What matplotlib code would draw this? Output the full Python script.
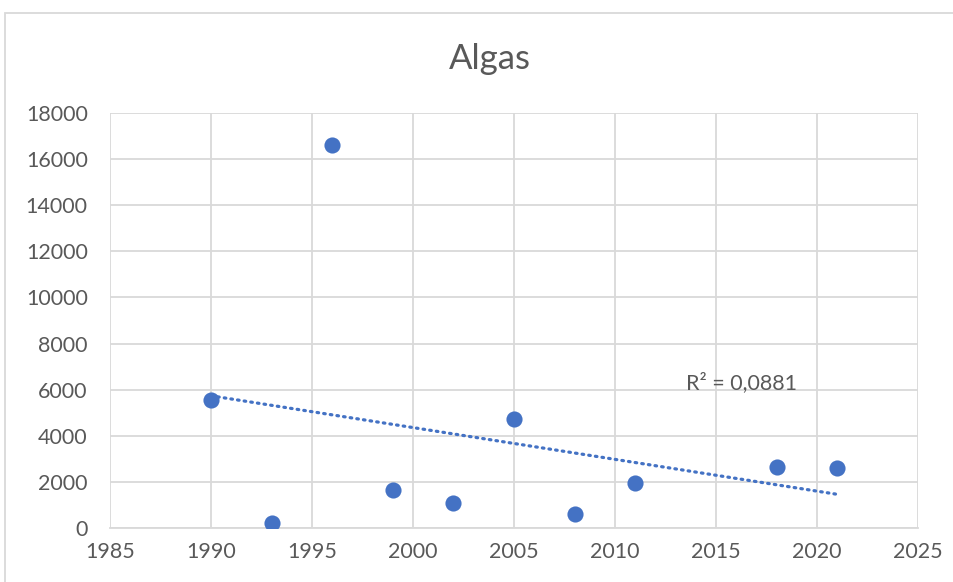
import matplotlib.pyplot as plt
import numpy as np
from matplotlib.patches import Rectangle

# data
years = [1990, 1993, 1996, 1999, 2002, 2005, 2008, 2011, 2018, 2021]
algas = [5550, 220, 16610, 1640, 1080, 4720, 600, 1950, 2640, 2620]
r2_label = "R² = 0,0881"

x_ticks = [1985, 1990, 1995, 2000, 2005, 2010, 2015, 2020, 2025]
y_ticks = [0, 2000, 4000, 6000, 8000, 10000, 12000, 14000, 16000, 18000]

BLUE = "#4472C4"
TEXT = "#595959"
GRID = "#D9D9D9"

plt.rcParams["font.family"] = ["Lato", "DejaVu Sans"]

fig = plt.figure(figsize=(9.54, 5.82), dpi=100)
ax = fig.add_axes([0.1153, 0.0928, 0.8470, 0.7130])

# chart border (light grey, cut off at right and bottom like the screenshot)
fig.patches.append(
    Rectangle((5 / 954, -0.05), 1.2, (582 - 13) / 582 + 0.05,
              transform=fig.transFigure, fill=False, edgecolor=GRID, linewidth=1.3)
)

ax.scatter(years, algas, s=135, color=BLUE, zorder=3, linewidths=0)

# linear trendline
slope, intercept = np.polyfit(years, algas, 1)
tx = np.array([min(years), max(years)])
ax.plot(tx, slope * tx + intercept, color=BLUE, linewidth=2.3,
        linestyle=(0, (0.5, 1.6)), dash_capstyle="round", zorder=2)

ax.text(2013.5, 6290, r2_label, fontsize=15.5, color=TEXT, va="center", ha="left")

ax.set_xlim(1985, 2025)
ax.set_ylim(0, 18000)
ax.set_xticks(x_ticks)
ax.set_yticks(y_ticks)
ax.grid(True, color=GRID, linewidth=1.3)
ax.set_axisbelow(True)
for side in ["top", "right", "left"]:
    ax.spines[side].set_visible(False)
ax.spines["bottom"].set_color(GRID)
ax.spines["bottom"].set_linewidth(1.3)
ax.tick_params(axis="both", length=0, labelsize=15.5, labelcolor=TEXT)
ax.tick_params(axis="y", pad=16)
ax.tick_params(axis="x", pad=10)

fig.text(0.514, 0.898, "Algas", fontsize=25, color=TEXT, ha="center", va="center")

fig.savefig("out.png", dpi=100)
